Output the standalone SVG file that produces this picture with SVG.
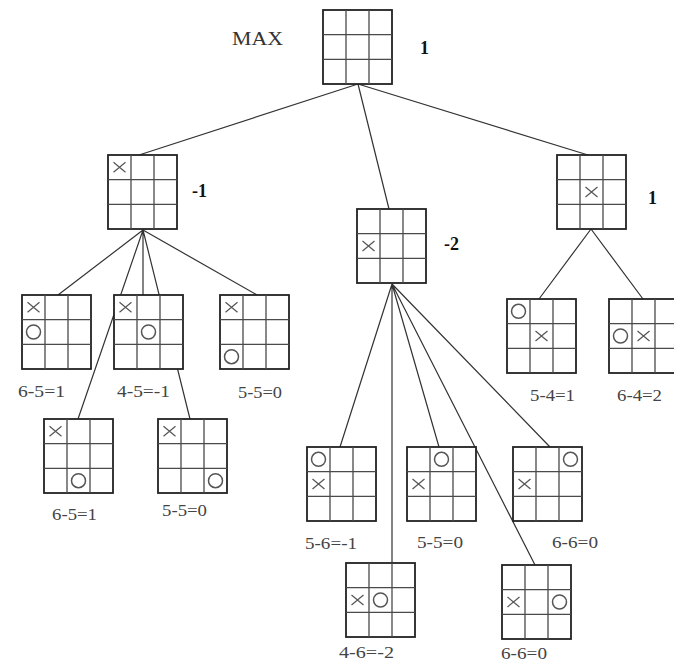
<svg xmlns="http://www.w3.org/2000/svg" xmlns:xlink="http://www.w3.org/1999/xlink" width="674" height="665" viewBox="0 0 674 665">
<style>
.bg{fill:#fff}
.edge{stroke:#333;stroke-width:1.2;fill:none}
.frame{fill:#fff;stroke:#222;stroke-width:1.8}
.inner{stroke:#4a4a4a;stroke-width:1.3;fill:none}
.x{stroke:#555;stroke-width:1.2;fill:none}
.o{stroke:#555;stroke-width:1.5;fill:none}
.lbl{font-family:"Liberation Serif","Times New Roman",serif;font-size:16px;fill:#444}
.val{font-family:"Liberation Serif","Times New Roman",serif;font-size:18px;font-weight:bold;fill:#111}
.max{font-family:"Liberation Serif","Times New Roman",serif;font-size:18px;fill:#333}
</style>
<defs>
<g id="grid">
<rect class="frame" x="0" y="0" width="69" height="74"/>
<path class="inner" d="M23 0V74M46 0V74M0 24.7H69M0 49.3H69"/>
</g>
<path id="X" class="x" d="M-6 -5L6 5M-6 5L6 -5"/>
<circle id="O" class="o" r="7"/>
</defs>
<rect class="bg" width="674" height="665"/>
<g id="connectors">
<path class="edge" d="M358 84L139 155M358 84L389 209M358 84L588 155"/>
<path class="edge" d="M143 230L58 295M143 230L78 419M143 230L143 295M143 230L190 419M143 230L257 295"/>
<path class="edge" d="M591 229L539 299M591 229L643 299"/>
<path class="edge" d="M392 284L340 447M392 284L392 563M392 284L439 447M392 284L535 565M392 284L550 447"/>
</g>
<g id="root">
<text class="max" x="232" y="45" textLength="51" lengthAdjust="spacingAndGlyphs">MAX</text>
<use xlink:href="#grid" transform="translate(323,10)"/>
<text class="val" x="420" y="54">1</text>
</g>
<g id="n1">
<use xlink:href="#grid" transform="translate(108,155)"/>
<use xlink:href="#X" transform="translate(119.5,167.3)"/>
<text class="val" x="192" y="197" font-family="Liberation Sans">-1</text>
</g>
<g id="n2">
<use xlink:href="#grid" transform="translate(357,209)"/>
<use xlink:href="#X" transform="translate(368.5,246)"/>
<text class="val" x="444" y="250" font-family="Liberation Sans">-2</text>
</g>
<g id="n3">
<use xlink:href="#grid" transform="translate(557,155)"/>
<use xlink:href="#X" transform="translate(591.5,192)"/>
<text class="val" x="648" y="204">1</text>
</g>
<g id="a">
<use xlink:href="#grid" transform="translate(22,295)"/>
<use xlink:href="#X" transform="translate(33.5,307.3)"/>
<use xlink:href="#O" transform="translate(33.5,332)"/>
<text class="lbl" x="18" y="397" textLength="47" lengthAdjust="spacingAndGlyphs">6-5=1</text>
</g>
<g id="b">
<use xlink:href="#grid" transform="translate(114,295)"/>
<use xlink:href="#X" transform="translate(125.5,307.3)"/>
<use xlink:href="#O" transform="translate(148.5,332)"/>
<text class="lbl" x="117" y="397" textLength="53" lengthAdjust="spacingAndGlyphs">4-5=-1</text>
</g>
<g id="c">
<use xlink:href="#grid" transform="translate(220,295)"/>
<use xlink:href="#X" transform="translate(231.5,307.3)"/>
<use xlink:href="#O" transform="translate(231.5,356.7)"/>
<text class="lbl" x="238" y="398" textLength="44" lengthAdjust="spacingAndGlyphs">5-5=0</text>
</g>
<g id="d">
<use xlink:href="#grid" transform="translate(44,419)"/>
<use xlink:href="#X" transform="translate(55.5,431.3)"/>
<use xlink:href="#O" transform="translate(78.5,480.7)"/>
<text class="lbl" x="52" y="520" textLength="45" lengthAdjust="spacingAndGlyphs">6-5=1</text>
</g>
<g id="e">
<use xlink:href="#grid" transform="translate(158,419)"/>
<use xlink:href="#X" transform="translate(169.5,431.3)"/>
<use xlink:href="#O" transform="translate(215.5,480.7)"/>
<text class="lbl" x="162" y="516" textLength="45" lengthAdjust="spacingAndGlyphs">5-5=0</text>
</g>
<g id="f">
<use xlink:href="#grid" transform="translate(507,299)"/>
<use xlink:href="#O" transform="translate(518.5,311.3)"/>
<use xlink:href="#X" transform="translate(541.5,336)"/>
<text class="lbl" x="530" y="401" textLength="45" lengthAdjust="spacingAndGlyphs">5-4=1</text>
</g>
<g id="g">
<use xlink:href="#grid" transform="translate(609,299)"/>
<use xlink:href="#O" transform="translate(620.5,336)"/>
<use xlink:href="#X" transform="translate(643.5,336)"/>
<text class="lbl" x="617" y="401" textLength="45" lengthAdjust="spacingAndGlyphs">6-4=2</text>
</g>
<g id="h">
<use xlink:href="#grid" transform="translate(307,447)"/>
<use xlink:href="#O" transform="translate(318.5,459.3)"/>
<use xlink:href="#X" transform="translate(318.5,484)"/>
<text class="lbl" x="305" y="549" textLength="52" lengthAdjust="spacingAndGlyphs">5-6=-1</text>
</g>
<g id="i">
<use xlink:href="#grid" transform="translate(407,447)"/>
<use xlink:href="#O" transform="translate(441.5,459.3)"/>
<use xlink:href="#X" transform="translate(418.5,484)"/>
<text class="lbl" x="417" y="548" textLength="46" lengthAdjust="spacingAndGlyphs">5-5=0</text>
</g>
<g id="j">
<use xlink:href="#grid" transform="translate(513,447)"/>
<use xlink:href="#O" transform="translate(570.5,459.3)"/>
<use xlink:href="#X" transform="translate(524.5,484)"/>
<text class="lbl" x="552" y="548" textLength="46" lengthAdjust="spacingAndGlyphs">6-6=0</text>
</g>
<g id="k">
<use xlink:href="#grid" transform="translate(346,563)"/>
<use xlink:href="#X" transform="translate(357.5,600)"/>
<use xlink:href="#O" transform="translate(380.5,600)"/>
<text class="lbl" x="339" y="658" textLength="55" lengthAdjust="spacingAndGlyphs">4-6=-2</text>
</g>
<g id="l">
<use xlink:href="#grid" transform="translate(502,565)"/>
<use xlink:href="#X" transform="translate(513.5,602)"/>
<use xlink:href="#O" transform="translate(559.5,602)"/>
<text class="lbl" x="501" y="659" textLength="46" lengthAdjust="spacingAndGlyphs">6-6=0</text>
</g>
</svg>
